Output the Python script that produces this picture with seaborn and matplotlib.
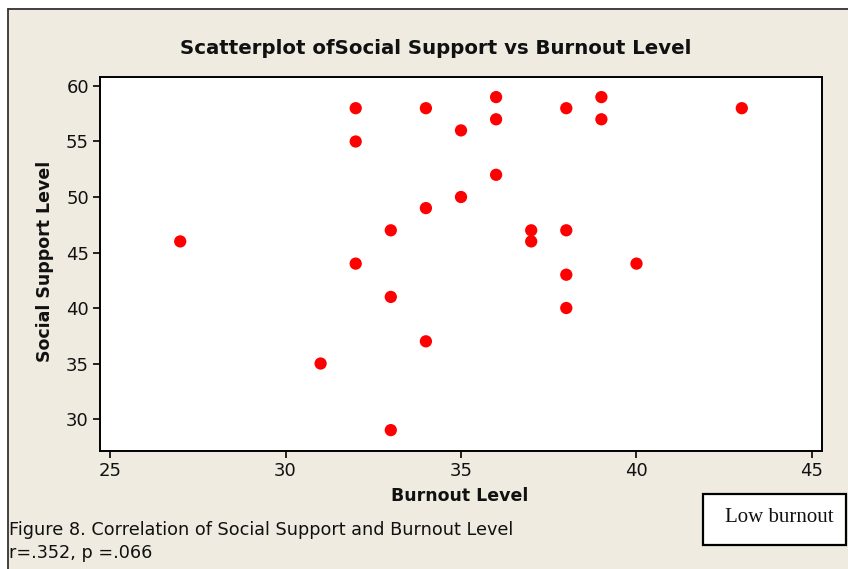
import matplotlib
matplotlib.use("Agg")
import matplotlib.pyplot as plt
import seaborn as sns
import pandas as pd
from matplotlib.patches import Rectangle
from matplotlib.lines import Line2D

burnout = [27, 31, 32, 32, 32, 33, 33, 33, 34, 34, 34, 35, 35, 36, 36, 36,
           37, 37, 38, 38, 38, 38, 39, 39, 40, 43]
support = [46, 35, 58, 55, 44, 47, 41, 29, 58, 49, 37, 56, 50, 59, 57, 52,
           47, 46, 58, 47, 43, 40, 59, 57, 44, 58]
x_ticks = [25, 30, 35, 40, 45]
y_ticks = [30, 35, 40, 45, 50, 55, 60]

df = pd.DataFrame({"Burnout Level": burnout, "Social Support Level": support})

sns.set_theme(style="white")
plt.rcParams['font.family'] = ['DejaVu Sans']

BG = "#EFEBE0"
fig = plt.figure(figsize=(8.48, 5.69), dpi=100)
fig.patch.set_facecolor("white")

W, H = 848, 569
panel = Rectangle((8 / W, 0), 1 - 8 / W, 1 - 8 / H, transform=fig.transFigure,
                  facecolor=BG, edgecolor="none", zorder=-10)
fig.patches.append(panel)
fig.lines.append(Line2D([8 / W, 1], [1 - 8.5 / H, 1 - 8.5 / H], transform=fig.transFigure,
                        color="#333333", lw=1.3))
fig.lines.append(Line2D([8 / W, 8 / W], [0, 1 - 8.5 / H], transform=fig.transFigure,
                        color="#333333", lw=1.3))

ax = fig.add_axes([100 / W, 1 - 451 / H, (822 - 100) / W, (451 - 77) / H])
ax.set_zorder(5)
ax.set_facecolor("white")
sns.scatterplot(data=df, x="Burnout Level", y="Social Support Level", ax=ax,
                color="#FF0000", s=78, edgecolor="none", linewidth=0, zorder=3)

ax.set_xlim(24.715, 45.285)
ax.set_ylim(27.12, 60.81)
ax.set_xticks(x_ticks)
ax.set_yticks(y_ticks)
ax.tick_params(axis="both", direction="out", length=5, width=1.2, color="black",
               labelsize=13, labelcolor="#111111", pad=3, bottom=True, left=True)
for sp in ax.spines.values():
    sp.set_color("black")
    sp.set_linewidth(1.4)

ax.set_xlabel("")
ax.set_ylabel("")
fig.text(460 / W, 1 - 496 / H, "Burnout Level", ha="center", va="center",
         fontsize=12.5, fontweight="bold", color="#111111")
fig.text(45 / W, 1 - 261 / H, "Social Support Level", ha="center", va="center",
         rotation=90, fontsize=12.5, fontweight="bold", color="#111111")
fig.text(435.5 / W, 1 - 49 / H, "Scatterplot ofSocial Support vs Burnout Level",
         ha="center", va="center", fontsize=14.2, fontweight="bold", color="#111111")

fig.text(9 / W, 1 - 530 / H, "Figure 8. Correlation of Social Support and Burnout Level",
         ha="left", va="center", fontsize=12.7, color="#111111")
fig.text(9 / W, 1 - 553 / H, "r=.352, p =.066",
         ha="left", va="center", fontsize=12.7, color="#111111")

box = Rectangle((703 / W, 1 - 545 / H), (846 - 703) / W, (545 - 494) / H,
                transform=fig.transFigure, facecolor="white", edgecolor="black",
                lw=1.6, zorder=5)
fig.patches.append(box)
fig.text(779 / W, 1 - 518 / H, "Low burnout", ha="center", va="center",
         fontsize=15, family="Liberation Serif", color="#111111", zorder=6)

fig.savefig("out.png", dpi=100, facecolor=fig.get_facecolor())
